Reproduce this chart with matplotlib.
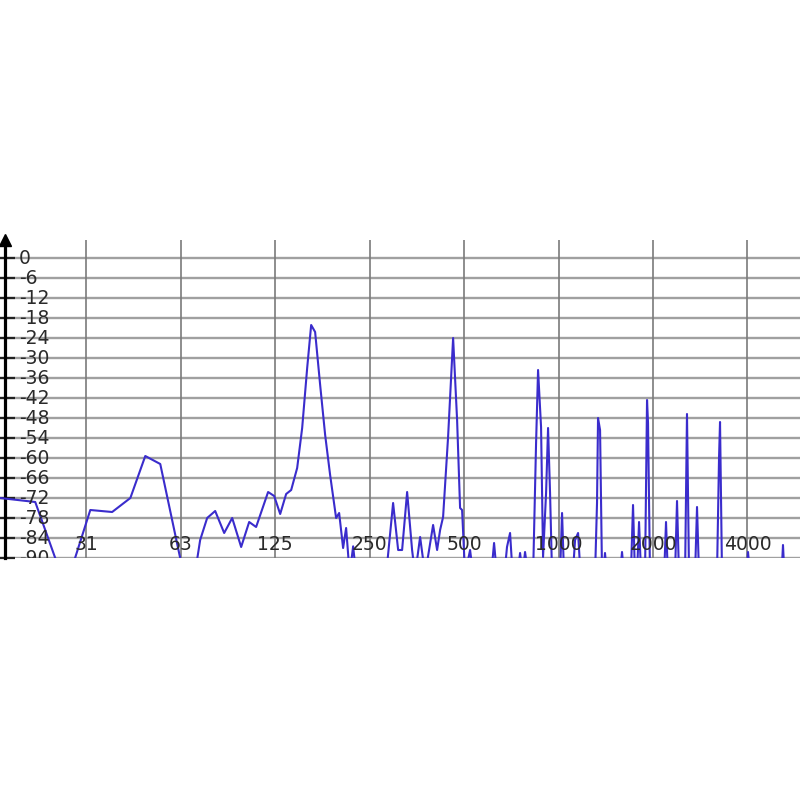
import matplotlib
matplotlib.use('Agg')
import matplotlib.pyplot as plt
import matplotlib.transforms as mtransforms

# spectrum (Hz, dB); -95 = below the bottom edge
freq_hz = [16.6, 21.5, 26.0, 27.7, 32.2, 37.8, 43.2, 48.2, 53.8, 63.9,
           69.3, 72.1, 75.9, 80.5, 86.0, 91.2, 97.4, 103.3, 108.7, 118.7,
           124.1, 129.7, 135.5, 140.6, 146.9, 152.4, 158.1, 162.8, 167.6, 173.9,
           180.4, 187.1, 195.5, 199.9, 205.8, 210.4, 216.0, 221.5, 226.5, 282.2,
           297.0, 308.2, 317.3, 329.2, 341.4, 349.0, 362.1, 375.6, 398.3, 410.2,
           419.3, 428.6, 444.6, 461.3, 475.0, 485.5, 492.7, 503.7, 522.5, 534.0,
           610.0, 623.0, 636.0, 672.0, 685.0, 700.6, 714.0, 740.0, 754.0, 768.0,
           782.0, 800.0, 829.6, 847.9, 860.4, 879.5, 892.5, 912.5, 925.9, 939.5,
           953.5, 1011.0, 1026.0, 1041.0, 1110.0, 1128.8, 1154.0, 1175.0, 1307.0, 1326.0,
           1336.0, 1356.0, 1376.0, 1390.0, 1406.0, 1426.0, 1570.0, 1593.0, 1617.0, 1700.0,
           1727.0, 1752.0, 1778.0, 1805.0, 1832.0, 1886.0, 1914.0, 1928.0, 1956.0, 2170.0,
           2200.0, 2230.0, 2350.0, 2385.0, 2420.0, 2530.0, 2566.0, 2605.0, 2722.0, 2762.0,
           2803.0, 3198.0, 3246.0, 3270.0, 3318.0, 3975.0, 4015.0, 4075.0, 5135.0, 5190.0,
           5245.0, 5900.0]
level_db = [-72.0, -73.2, -95, -95, -75.6, -76.2, -72.0, -59.4, -61.8, -95,
            -95, -84.6, -78.0, -75.9, -82.5, -78.0, -86.7, -79.2, -80.7, -70.2,
            -71.4, -76.8, -70.8, -69.6, -63.0, -51.0, -33.0, -20.1, -22.2, -38.1,
            -53.1, -65.1, -78.0, -76.5, -87.0, -81.0, -95, -86.5, -95, -95,
            -73.5, -87.6, -87.6, -70.2, -87.6, -95, -83.7, -95, -80.1, -87.6,
            -81.6, -77.7, -53.7, -24.0, -48.6, -75.0, -75.6, -95, -87.6, -95,
            -95, -85.5, -95, -95, -86.7, -82.5, -95, -95, -88.5, -95,
            -88.2, -95, -95, -55.5, -33.6, -50.7, -89.7, -70.5, -51.0, -70.5,
            -95, -95, -76.5, -95, -95, -84.6, -82.5, -95, -95, -73.5,
            -48.0, -51.6, -95, -95, -88.5, -95, -95, -88.2, -95, -95,
            -74.1, -95, -95, -79.2, -95, -95, -42.6, -49.5, -95, -95,
            -79.2, -95, -95, -72.9, -95, -95, -46.8, -95, -95, -74.7,
            -95, -95, -60.0, -49.2, -95, -95, -88.2, -95, -95, -86.1,
            -95, -95]

octave_hz = [31.25, 62.5, 125, 250, 500, 1000, 2000, 4000]
octave_labels = ['31', '63', '125', '250', '500', '1000', '2000', '4000']
db_ticks = list(range(0, -91, -6))

fig = plt.figure(figsize=(8, 8), dpi=100)
ax = fig.add_axes([0, 0.3025, 1, 0.3975])

ax.set_xscale('log', base=2)
ax.set_xlim(16.6, 5880)
ax.set_ylim(-90, 5.4)

for y in db_ticks:
    ax.axhline(y, color='#a0a0a0', lw=1.7, zorder=1)
for f in octave_hz:
    ax.axvline(f, color='#7a7a7a', lw=1.2, zorder=1)

ax.plot(freq_hz, level_db, color='#3a2ccc', lw=1.5, zorder=3)

for s in ['top', 'right', 'bottom']:
    ax.spines[s].set_visible(False)
ax.spines['left'].set_position(('axes', 0.00625))
ax.spines['left'].set_linewidth(2.3)
ax.spines['left'].set_bounds(-90, 4.5)
ax.plot([0.00625], [1.0], marker='^', color='black', ms=8,
        transform=ax.transAxes, clip_on=False, zorder=5)

ax.set_xticks([])
ax.set_yticks(db_ticks)
ax.set_yticklabels([])
ax.tick_params(axis='y', direction='inout', length=14, width=1.6, color='#222222')
ax.minorticks_off()

trans = mtransforms.blended_transform_factory(ax.transAxes, ax.transData)
for y in db_ticks:
    ax.text(0.024, y, str(y), transform=trans, ha='left', va='center',
            fontsize=13.5, color='#2a2a2a', zorder=4, clip_on=True)

for f, lab in zip(octave_hz, octave_labels):
    ax.text(f, -86, lab, ha='center', va='center', fontsize=13.5,
            color='#2a2a2a', zorder=4)

fig.savefig('out.png', dpi=100)
